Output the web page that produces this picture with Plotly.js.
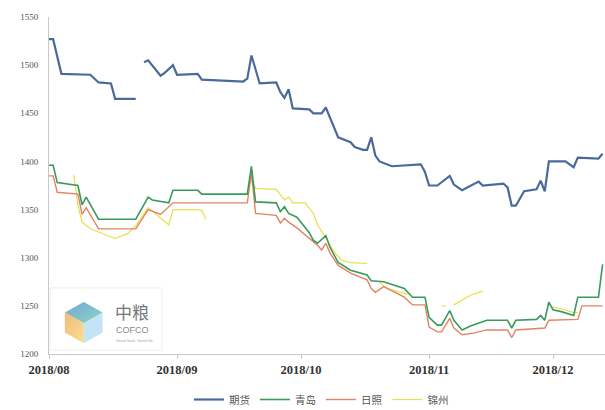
<!DOCTYPE html>
<html>
<head>
<meta charset="utf-8">
<script src="https://cdn.plot.ly/plotly-3.0.1.min.js"></script>
<style>html,body{margin:0;padding:0;background:#fff;}#chart{width:605px;height:410px;}</style>
</head>
<body>
<div id="chart"></div>
<script>
const seriesNames = ['期货', '青岛', '日照', '锦州'];
const tickVals = ['2018-08-01', '2018-09-01', '2018-10-01', '2018-11-01', '2018-12-01'];
const tickText = ['2018/08', '2018/09', '2018/10', '2018/11', '2018/12'];

const blueDates = ['2018-08-01','2018-08-02','2018-08-04','2018-08-11','2018-08-13','2018-08-16','2018-08-17','2018-08-22','2018-08-23','2018-08-24','2018-08-25','2018-08-28','2018-08-29','2018-08-31','2018-09-01','2018-09-06','2018-09-07','2018-09-17','2018-09-18','2018-09-19','2018-09-20','2018-09-21','2018-09-25','2018-09-26','2018-09-27','2018-09-28','2018-09-29','2018-10-03','2018-10-04','2018-10-06','2018-10-07','2018-10-10','2018-10-13','2018-10-14','2018-10-16','2018-10-17','2018-10-18','2018-10-19','2018-10-20','2018-10-23','2018-10-30','2018-10-31','2018-11-01','2018-11-03','2018-11-06','2018-11-07','2018-11-08','2018-11-09','2018-11-13','2018-11-14','2018-11-19','2018-11-20','2018-11-21','2018-11-22','2018-11-24','2018-11-27','2018-11-28','2018-11-29','2018-11-30','2018-12-04','2018-12-06','2018-12-07','2018-12-12','2018-12-13'];
const blueVals = [1527,1527,1491,1490,1482,1481,1465,1465,null,1503,1505,1489,1492,1500,1490,1491,1485,1483,1486,1510,1495,1481,1482,1472,1466,1475,1455,1454,1450,1450,1456,1425,1420,1415,1412,1412,1425,1406,1400,1395,1397,1389,1375,1375,1385,1376,1373,1370,1379,1375,1377,1373,1354,1354,1369,1371,1380,1369,1400,1400,1394,1404,1403,1408];

const greenDates = ['2018-08-01','2018-08-02','2018-08-03','2018-08-08','2018-08-09','2018-08-10','2018-08-13','2018-08-22','2018-08-25','2018-08-26','2018-08-30','2018-08-31','2018-09-06','2018-09-07','2018-09-18','2018-09-19','2018-09-20','2018-09-25','2018-09-26','2018-09-27','2018-09-28','2018-09-30','2018-10-03','2018-10-04','2018-10-05','2018-10-07','2018-10-08','2018-10-10','2018-10-13','2018-10-17','2018-10-18','2018-10-21','2018-10-26','2018-10-28','2018-10-31','2018-11-01','2018-11-03','2018-11-04','2018-11-06','2018-11-07','2018-11-09','2018-11-11','2018-11-15','2018-11-20','2018-11-21','2018-11-22','2018-11-27','2018-11-28','2018-11-29','2018-11-30','2018-12-01','2018-12-03','2018-12-06','2018-12-07','2018-12-12','2018-12-13'];
const greenVals = [1396,1396,1378,1375,1355,1363,1340,1340,1363,1360,1357,1370,1370,1366,1366,1395,1358,1357,1348,1353,1346,1342,1326,1318,1315,1323,1311,1295,1287,1282,1276,1275,1268,1259,1259,1238,1230,1230,1245,1235,1225,1229,1235,1235,1227,1235,1236,1240,1235,1254,1246,1244,1240,1259,1259,1293];

const redDates = ['2018-08-01','2018-08-02','2018-08-03','2018-08-08','2018-08-09','2018-08-10','2018-08-13','2018-08-22','2018-08-25','2018-08-28','2018-08-31','2018-09-18','2018-09-19','2018-09-20','2018-09-25','2018-09-26','2018-09-27','2018-09-28','2018-09-30','2018-10-03','2018-10-05','2018-10-06','2018-10-07','2018-10-08','2018-10-10','2018-10-13','2018-10-17','2018-10-18','2018-10-19','2018-10-21','2018-10-26','2018-10-28','2018-10-31','2018-11-01','2018-11-03','2018-11-04','2018-11-06','2018-11-07','2018-11-09','2018-11-12','2018-11-15','2018-11-20','2018-11-21','2018-11-22','2018-11-29','2018-11-30','2018-12-07','2018-12-08','2018-12-13'];
const redVals = [1385,1385,1368,1366,1345,1352,1330,1330,1350,1345,1357,1357,1388,1346,1344,1336,1341,1337,1331,1320,1313,1308,1315,1305,1292,1284,1277,1268,1264,1270,1259,1251,1251,1228,1223,1223,1237,1227,1220,1222,1225,1225,1217,1225,1227,1235,1236,1250,1250];

const yellowDates = ['2018-08-07','2018-08-08','2018-08-09','2018-08-11','2018-08-17','2018-08-20','2018-08-22','2018-08-25','2018-08-30','2018-08-31','2018-09-06','2018-09-07','2018-09-08','2018-09-12','2018-09-19','2018-09-20','2018-09-25','2018-09-26','2018-09-27','2018-09-28','2018-09-29','2018-10-02','2018-10-04','2018-10-05','2018-10-07','2018-10-09','2018-10-11','2018-10-13','2018-10-17','2018-10-18','2018-10-20','2018-10-22','2018-10-25','2018-10-27','2018-10-30','2018-11-04','2018-11-05','2018-11-06','2018-11-07','2018-11-09','2018-11-11','2018-11-13','2018-11-14','2018-11-20','2018-12-01','2018-12-03','2018-12-06','2018-12-07'];
const yellowVals = [1386,1355,1337,1330,1320,1325,1333,1352,1334,1350,1350,1349,1340,null,1380,1372,1371,1365,1360,1363,1357,1357,1346,1334,1321,1306,1297,1295,1294,null,1274,1268,1264,1262,null,1250,1250,null,1251,1256,1261,1264,1265,null,1249,1247,1243,1243];

const colors = ['#4a6a9c', '#3a9a5c', '#e38366', '#e8df4a'];
const widths = [2.2, 1.6, 1.4, 1.2];
const xs = [blueDates, greenDates, redDates, yellowDates];
const ys = [blueVals, greenVals, redVals, yellowVals];

const traces = seriesNames.map((n, i) => ({
  type: 'scatter', mode: 'lines', name: n, x: xs[i], y: ys[i],
  connectgaps: false, legendrank: i + 1,
  line: {color: colors[i], width: widths[i]}
}));
// draw order: yellow, red, green under blue
const ordered = [traces[3], traces[2], traces[1], traces[0]];

const cubeSvg = '<svg xmlns="http://www.w3.org/2000/svg" viewBox="0 0 40 40">' +
  '<defs><linearGradient id="g1" x1="0" y1="0" x2="1" y2="1"><stop offset="0" stop-color="#2f7fc8"/><stop offset="1" stop-color="#5cc0a0"/></linearGradient>' +
  '<linearGradient id="g2" x1="0" y1="0" x2="1" y2="1"><stop offset="0" stop-color="#f09a3a"/><stop offset="1" stop-color="#f6d060"/></linearGradient></defs>' +
  '<polygon points="20,3 36,12 20,21 4,12" fill="url(#g1)" opacity="0.85"/>' +
  '<polygon points="4,12 20,21 20,38 4,29" fill="url(#g2)" opacity="0.85"/>' +
  '<polygon points="36,12 36,29 20,38 20,21" fill="#a9d7f2" opacity="0.85"/>' +
  '</svg>';

const serif = 'Liberation Serif, Times New Roman, serif';
const layout = {
  width: 605, height: 410,
  margin: {l: 49, r: 0, t: 17, b: 56, autoexpand: false},
  paper_bgcolor: '#fff', plot_bgcolor: '#fff',
  showlegend: true,
  legend: {orientation: 'h', x: 0.49, xanchor: 'center', y: -0.092, yanchor: 'top',
           font: {family: 'Noto Sans CJK SC', size: 10.5, color: '#555'}, itemwidth: 30, traceorder: 'normal'},
  xaxis: {
    type: 'date', range: ['2018-08-01', '2018-12-13 14:00'],
    tickvals: tickVals, ticktext: tickText,
    showline: true, linecolor: '#c8c8c8', linewidth: 1,
    ticks: 'outside', ticklen: 4, tickcolor: '#c8c8c8',
    showgrid: false, zeroline: false,
    tickfont: {family: serif, size: 12.5, color: '#333', weight: 'bold'}
  },
  yaxis: {
    range: [1200, 1550], dtick: 50, tickformat: 'd',
    showline: true, linecolor: '#c8c8c8', linewidth: 1,
    ticks: '', showgrid: false, zeroline: false,
    ticklabelstandoff: 8,
    tickfont: {family: serif, size: 9, color: '#555'}
  },
  shapes: [
    {type: 'rect', xref: 'paper', yref: 'paper', x0: 0.002, x1: 0.203, y0: 0.012, y1: 0.196,
     line: {color: '#eeeeee', width: 1}, fillcolor: 'rgba(255,255,255,0.6)', layer: 'below'}
  ],
  images: [
    {source: 'data:image/svg+xml;utf8,' + encodeURIComponent(cubeSvg), xref: 'paper', yref: 'paper',
     x: 0.02, y: 0.165, sizex: 0.085, sizey: 0.14, xanchor: 'left', yanchor: 'top', opacity: 0.8, layer: 'above'}
  ],
  annotations: [
    {text: '中粮', xref: 'paper', yref: 'paper', x: 0.115, y: 0.125, xanchor: 'left', yanchor: 'middle',
     showarrow: false, font: {family: 'Noto Sans CJK SC', size: 17, color: '#777'}},
    {text: 'COFCO', xref: 'paper', yref: 'paper', x: 0.117, y: 0.072, xanchor: 'left', yanchor: 'middle',
     showarrow: false, font: {family: 'Liberation Sans, Arial', size: 9, color: '#888'}},
    {text: 'Good food, Good life', xref: 'paper', yref: 'paper', x: 0.117, y: 0.04, xanchor: 'left', yanchor: 'middle',
     showarrow: false, font: {family: 'Liberation Sans, Arial', size: 4, color: '#aaa'}}
  ]
};

Plotly.newPlot('chart', ordered, layout, {displayModeBar: false, staticPlot: true});
</script>
</body>
</html>
